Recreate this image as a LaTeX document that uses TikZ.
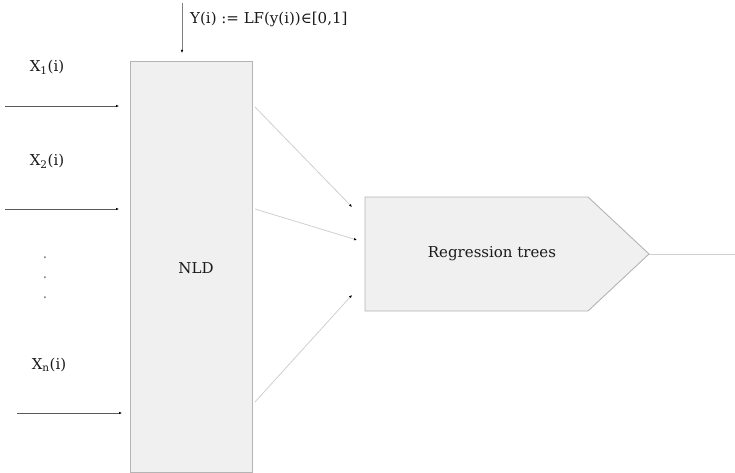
\documentclass[tikz,border=0pt]{standalone}
\usepackage{fontspec}
\setmainfont{DejaVu Serif}
\usetikzlibrary{arrows.meta}
\definecolor{boxfill}{HTML}{F0F0F0}
\definecolor{boxline}{HTML}{B4B4B4}
\definecolor{inline}{HTML}{5A5A5A}
\definecolor{outline}{HTML}{CFCFCF}
\definecolor{txt}{HTML}{1A1A1A}
\tikzset{
  lbl/.style={font=\fontsize{15}{18}\selectfont, text=txt, inner sep=0pt},
  blk/.style={draw=boxline, fill=boxfill, line width=0.9pt},
  inarrow/.style={draw=inline, line width=0.7pt, -{Latex[length=3pt,width=2.6pt,black]}},
  yarrow/.style={draw=gray, line width=0.7pt, -{Latex[length=3pt,width=2.6pt,black]}},
  midarrow/.style={draw=outline, line width=0.8pt, -{Latex[length=3pt,width=2.6pt,black]}},
}
\begin{document}
\begin{tikzpicture}[x=1pt,y=-1pt]
\useasboundingbox (0,0) rectangle (735,473);
% NLD block
\node[blk, rectangle, minimum width=122pt, minimum height=411pt, anchor=north west, inner sep=0pt] (nld) at (130,61) {};
\node[lbl] (nldt) at (196,268) {NLD};
% Regression block (pentagon)
\draw[blk] (365,197) -- (588,197) -- (649,254) -- (588,311) -- (365,311) -- cycle;
\coordinate (tip) at (649,254);
\node[lbl] (rt) at (492,254) {Regression trees};
% top input
\coordinate (ytop) at (182,3);
\coordinate (yend) at (182,53);
\draw[yarrow] (ytop) -- (yend);
\node[lbl, anchor=west] (ylab) at (190,19) {Y(i) := LF(y(i))∈[0,1]};
% left inputs
\node[lbl] (x1) at (47,67) {X\textsubscript{1}(i)};
\node[lbl] (x2) at (47,161) {X\textsubscript{2}(i)};
\node[lbl] (xn) at (49,365) {X\textsubscript{n}(i)};
\node[lbl, text=gray] (d1) at (45,258) {.};
\node[lbl, text=gray] (d2) at (45,278) {.};
\node[lbl, text=gray] (d3) at (45,298) {.};
\coordinate (a1s) at (5,106);   \coordinate (a1e) at (119,106);
\coordinate (a2s) at (5,209);   \coordinate (a2e) at (119,209);
\coordinate (ans) at (17,413);  \coordinate (ane) at (122,413);
\draw[inarrow] (a1s) -- (a1e);
\draw[inarrow] (a2s) -- (a2e);
\draw[inarrow] (ans) -- (ane);
% NLD to regression
\coordinate (m1s) at (255,107); \coordinate (m1e) at (352,207);
\coordinate (m2s) at (255,209); \coordinate (m2e) at (357,240);
\coordinate (m3s) at (255,402); \coordinate (m3e) at (352,295);
\draw[midarrow] (m1s) -- (m1e);
\draw[midarrow] (m2s) -- (m2e);
\draw[midarrow] (m3s) -- (m3e);
% output
\coordinate (outend) at (735,254);
\draw[draw=outline, line width=0.8pt] (tip) -- (outend);
\end{tikzpicture}
\end{document}
